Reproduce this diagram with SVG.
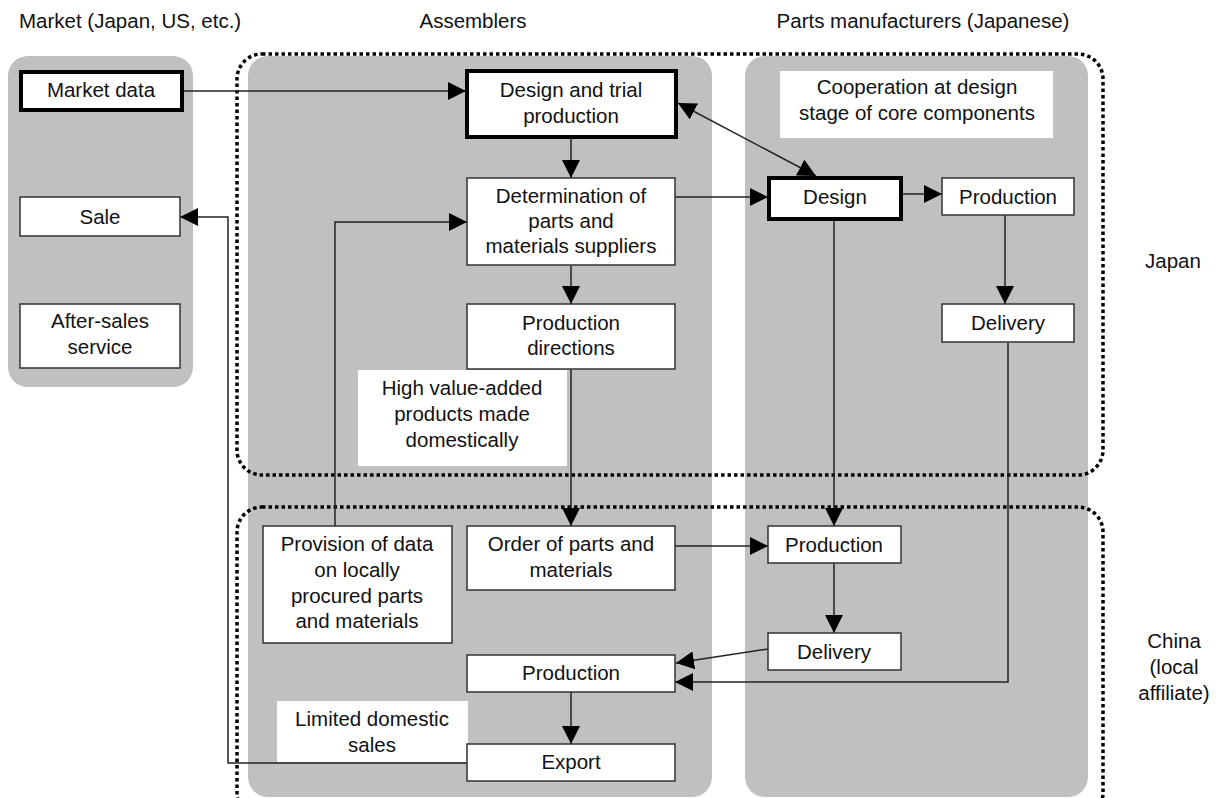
<svg xmlns="http://www.w3.org/2000/svg" width="1219" height="798" viewBox="0 0 1219 798">
<defs>
<style>
text{font-family:"Liberation Sans",Arial,sans-serif;font-size:20.5px;fill:#111;text-anchor:middle}
.hdr{text-anchor:start}
.panel{fill:#c0c0c0}
.box{fill:#fff;stroke:#333;stroke-width:1.5}
.thick{fill:#fff;stroke:#000;stroke-width:4}
.lbl{fill:#fff}
.dot{fill:none;stroke:#000;stroke-width:3.5;stroke-dasharray:3.5 3}
.c{fill:none;stroke:#222;stroke-width:1.5}
</style>
<marker id="ah" viewBox="0 0 18 18" refX="18" refY="9" markerWidth="18" markerHeight="18" markerUnits="userSpaceOnUse" orient="auto-start-reverse">
<path d="M0,0 L18,9 L0,18 Z" fill="#000"/>
</marker>
</defs>
<rect width="1219" height="798" fill="#fff"/>
<g id="panels">
<rect class="panel" x="8" y="56" width="185" height="331" rx="20"/>
<rect class="panel" x="248" y="56" width="464" height="741" rx="20"/>
<rect class="panel" x="745" y="56" width="343" height="741" rx="20"/>
<rect class="dot" x="237" y="54" width="866" height="421" rx="25"/>
<rect class="dot" x="237" y="507" width="866" height="311" rx="25"/>
</g>
<g id="headers">
<text class="hdr" x="19" y="28">Market (Japan, US, etc.)</text>
<text x="473" y="28">Assemblers</text>
<text x="923" y="28">Parts manufacturers (Japanese)</text>
<text x="1173" y="268">Japan</text>
<text x="1174" y="648">China</text>
<text x="1174" y="674">(local</text>
<text x="1174" y="700">affiliate)</text>
</g>
<g id="labels">
<rect class="lbl" x="358" y="370" width="209" height="96"/>
<text x="462" y="395">High value-added</text>
<text x="462" y="421">products made</text>
<text x="462" y="447">domestically</text>
<rect class="lbl" x="780" y="71" width="273" height="67"/>
<text x="917" y="94">Cooperation at design</text>
<text x="917" y="120">stage of core components</text>
<rect class="lbl" x="277" y="701" width="191" height="61"/>
<text x="372" y="726">Limited domestic</text>
<text x="372" y="752">sales</text>
</g>
<g id="connectors">
<path class="c" d="M183,91 H466" marker-end="url(#ah)"/>
<path class="c" d="M571,138 V178" marker-end="url(#ah)"/>
<path class="c" d="M571,266 V304" marker-end="url(#ah)"/>
<path class="c" d="M571,369 V526" marker-end="url(#ah)"/>
<path class="c" d="M335,526 V222 H467" marker-end="url(#ah)"/>
<path class="c" d="M675,197 H768" marker-end="url(#ah)"/>
<path class="c" d="M678,103 L816,176" marker-start="url(#ah)" marker-end="url(#ah)"/>
<path class="c" d="M902,194 H942" marker-end="url(#ah)"/>
<path class="c" d="M1005,215 V304" marker-end="url(#ah)"/>
<path class="c" d="M834,220 V526" marker-end="url(#ah)"/>
<path class="c" d="M1008,343 V682 H675" marker-end="url(#ah)"/>
<path class="c" d="M834,563 V633" marker-end="url(#ah)"/>
<path class="c" d="M675,546 H768" marker-end="url(#ah)"/>
<path class="c" d="M768,649 L676,663" marker-end="url(#ah)"/>
<path class="c" d="M571,692 V744" marker-end="url(#ah)"/>
<path class="c" d="M467,763 H228 V217 H180" marker-end="url(#ah)"/>
</g>
<g id="market-data"><rect class="thick" x="21" y="72" width="161" height="38"/><text x="101" y="97">Market data</text></g>
<g id="sale"><rect class="box" x="20" y="197" width="160" height="39"/><text x="100" y="224">Sale</text></g>
<g id="after-sales"><rect class="box" x="20" y="304" width="160" height="64"/><text x="100" y="328">After-sales</text><text x="100" y="354">service</text></g>
<g id="design-trial"><rect class="thick" x="467" y="71" width="209" height="66"/><text x="571" y="97">Design and trial</text><text x="571" y="123">production</text></g>
<g id="determination"><rect class="box" x="467" y="178" width="208" height="87"/><text x="571" y="203">Determination of</text><text x="571" y="228">parts and</text><text x="571" y="253">materials suppliers</text></g>
<g id="prod-directions"><rect class="box" x="467" y="304" width="208" height="65"/><text x="571" y="330">Production</text><text x="571" y="355">directions</text></g>
<g id="design"><rect class="thick" x="769" y="178" width="132" height="41"/><text x="835" y="204">Design</text></g>
<g id="jp-production"><rect class="box" x="942" y="178" width="132" height="37"/><text x="1008" y="204">Production</text></g>
<g id="jp-delivery"><rect class="box" x="942" y="304" width="132" height="38"/><text x="1008" y="330">Delivery</text></g>
<g id="provision"><rect class="box" x="263" y="526" width="189" height="117"/><text x="357" y="551">Provision of data</text><text x="357" y="577">on locally</text><text x="357" y="603">procured parts</text><text x="357" y="628">and materials</text></g>
<g id="order"><rect class="box" x="467" y="526" width="208" height="64"/><text x="571" y="551">Order of parts and</text><text x="571" y="577">materials</text></g>
<g id="cn-production-asm"><rect class="box" x="467" y="655" width="208" height="37"/><text x="571" y="680">Production</text></g>
<g id="export"><rect class="box" x="467" y="744" width="208" height="37"/><text x="571" y="769">Export</text></g>
<g id="cn-production"><rect class="box" x="768" y="526" width="133" height="37"/><text x="834" y="552">Production</text></g>
<g id="cn-delivery"><rect class="box" x="768" y="633" width="133" height="37"/><text x="834" y="659">Delivery</text></g>
</svg>
